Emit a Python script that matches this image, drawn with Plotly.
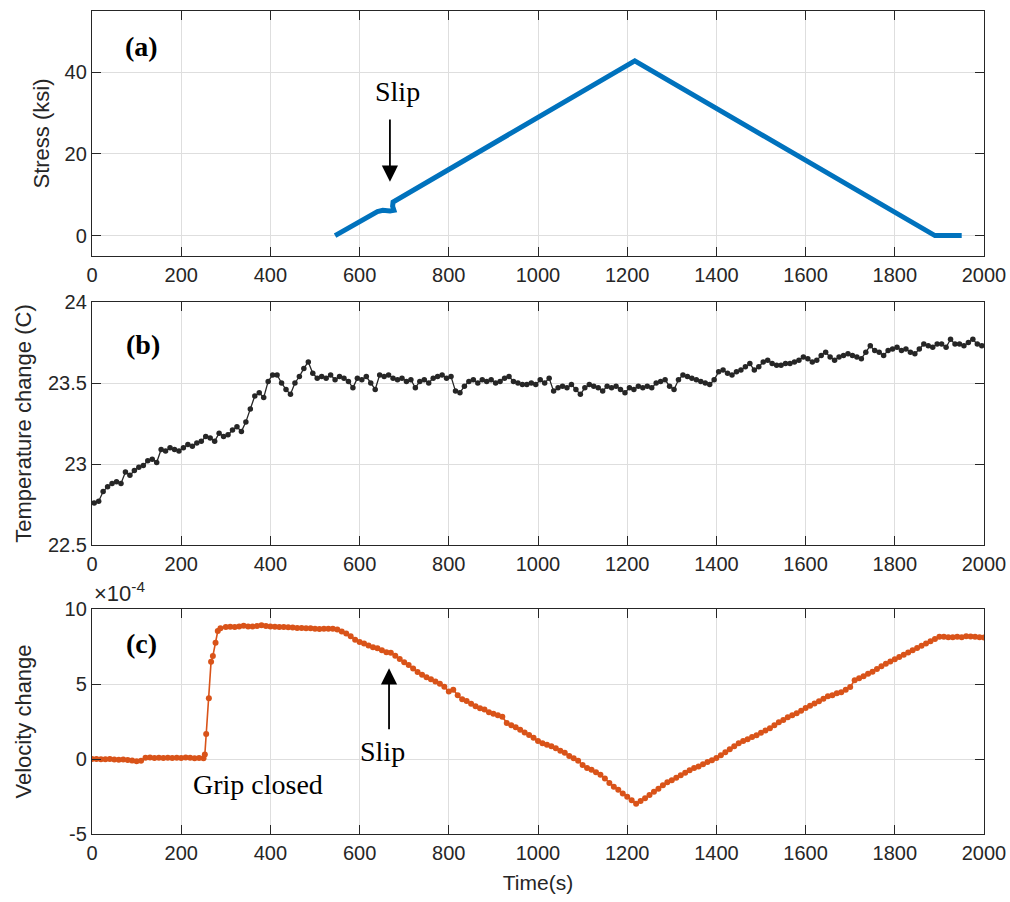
import plotly.graph_objects as go

# ---------------- data ----------------
# (a) Stress (ksi) vs time (s)
STRESS_T = [545, 640, 652, 668, 677, 674, 675, 1217, 1890, 1950]
STRESS = [0.0, 5.9, 6.2, 6.0, 6.2, 7.2, 8.2, 42.8, 0.0, 0.0]

# (b) Temperature change (C), sampled every 10 s starting at 5 s
TEMP_T = list(range(5, 2000, 10))
TEMP = [
    22.76, 22.77, 22.83, 22.86, 22.88, 22.89, 22.88, 22.95, 22.93, 22.96,
    22.98, 22.99, 23.02, 23.03, 23.01, 23.09, 23.08, 23.10, 23.09, 23.08,
    23.10, 23.12, 23.11, 23.13, 23.14, 23.17, 23.16, 23.14, 23.19, 23.17,
    23.18, 23.21, 23.23, 23.20, 23.26, 23.34, 23.42, 23.44, 23.41, 23.51,
    23.55, 23.55, 23.50, 23.46, 23.43, 23.50, 23.54, 23.59, 23.63, 23.56,
    23.53, 23.54, 23.53, 23.55, 23.52, 23.54, 23.53, 23.51, 23.47, 23.53,
    23.52, 23.54, 23.50, 23.46, 23.55, 23.54, 23.55, 23.53, 23.52, 23.53,
    23.51, 23.52, 23.47, 23.51, 23.52, 23.50, 23.53, 23.54, 23.55, 23.53,
    23.54, 23.45, 23.44, 23.48, 23.51, 23.52, 23.50, 23.52, 23.51, 23.52,
    23.50, 23.51, 23.53, 23.54, 23.51, 23.50, 23.49, 23.49, 23.50, 23.49,
    23.52, 23.50, 23.53, 23.45, 23.47, 23.48, 23.47, 23.49, 23.46, 23.43,
    23.47, 23.49, 23.48, 23.47, 23.45, 23.48, 23.47, 23.48, 23.46, 23.44,
    23.47, 23.46, 23.48, 23.47, 23.48, 23.47, 23.50, 23.51, 23.52, 23.48,
    23.46, 23.52, 23.55, 23.54, 23.53, 23.52, 23.51, 23.50, 23.49, 23.52,
    23.57, 23.58, 23.56, 23.55, 23.57, 23.58, 23.60, 23.62, 23.58, 23.60,
    23.63, 23.64, 23.62, 23.61, 23.61, 23.62, 23.62, 23.63, 23.64, 23.66,
    23.65, 23.63, 23.64, 23.67, 23.69, 23.66, 23.64, 23.66, 23.67, 23.68,
    23.67, 23.66, 23.65, 23.69, 23.73, 23.70, 23.69, 23.67, 23.70, 23.71,
    23.72, 23.70, 23.71, 23.69, 23.68, 23.71, 23.74, 23.73, 23.72, 23.74,
    23.74, 23.72, 23.77, 23.74, 23.74, 23.73, 23.75, 23.77, 23.74, 23.73,
]

# (c) Velocity change (x1e-4)
VEL_T = (list(range(0, 251, 10))
         + [253, 256, 262, 267, 271, 277, 282, 288]
         + list(range(300, 2001, 10)))
VEL = [
    0.00, 0.00, -0.02, -0.02, 0.00, -0.03, -0.05, -0.04, -0.06, -0.10,
    -0.15, -0.12, 0.08, 0.10, 0.06, 0.08, 0.07, 0.08, 0.06, 0.08,
    0.07, 0.10, 0.08, 0.05, 0.06, 0.05,
    0.30, 1.67, 4.05, 6.49, 6.87, 7.75, 8.53, 8.72,
    8.80, 8.82, 8.80, 8.84, 8.88, 8.84, 8.84, 8.86, 8.92, 8.86,
    8.84, 8.82, 8.80, 8.80, 8.78, 8.76, 8.74, 8.74, 8.72, 8.72,
    8.68, 8.66, 8.68, 8.68, 8.68, 8.64, 8.50, 8.36, 8.18, 7.95,
    7.80, 7.70, 7.56, 7.45, 7.38, 7.25, 7.12, 7.08, 6.88, 6.66,
    6.45, 6.26, 6.04, 5.80, 5.62, 5.45, 5.32, 5.16, 5.02, 4.82,
    4.50, 4.62, 4.25, 3.98, 3.86, 3.68, 3.52, 3.38, 3.30, 3.12,
    3.02, 2.92, 2.82, 2.40, 2.25, 2.12, 1.95, 1.76, 1.60, 1.42,
    1.20, 1.05, 0.95, 0.85, 0.72, 0.55, 0.42, 0.20, 0.05, -0.12,
    -0.40, -0.60, -0.72, -0.88, -1.05, -1.30, -1.60, -1.85, -2.05, -2.30,
    -2.52, -2.75, -2.98, -2.80, -2.62, -2.40, -2.18, -1.98, -1.75, -1.55,
    -1.42, -1.25, -1.08, -0.92, -0.75, -0.60, -0.50, -0.35, -0.20, -0.08,
    0.06, 0.25, 0.45, 0.65, 0.85, 1.05, 1.20, 1.32, 1.46, 1.58,
    1.75, 1.90, 2.05, 2.25, 2.45, 2.60, 2.78, 2.92, 3.05, 3.22,
    3.40, 3.55, 3.70, 3.85, 4.02, 4.18, 4.25, 4.38, 4.45, 4.62,
    4.80, 5.25, 5.38, 5.52, 5.68, 5.82, 6.00, 6.18, 6.35, 6.50,
    6.65, 6.80, 6.95, 7.10, 7.25, 7.40, 7.55, 7.70, 7.85, 8.00,
    8.15, 8.15, 8.12, 8.12, 8.15, 8.12, 8.18, 8.16, 8.15, 8.12,
    8.10,
]

X_TICKS = list(range(0, 2001, 200))
Y1_TICKS = [0, 20, 40]
Y2_TICKS = [22.5, 23, 23.5, 24]
Y3_TICKS = [-5, 0, 5, 10]
Y3_TEXT = ["-5", "0", "5", "10"]

# ---------------- styling ----------------
AX = "#262626"
GRID = "#dedede"
SANS = "Liberation Sans, Arial, sans-serif"
SERIF = "Liberation Serif, Times New Roman, serif"
BLUE = "#0072BD"
ORANGE = "#D95319"
DARK = "#262626"

fig = go.Figure()
fig.add_trace(go.Scatter(x=STRESS_T, y=STRESS, mode="lines",
                         line=dict(color=BLUE, width=5),
                         xaxis="x", yaxis="y", showlegend=False))
fig.add_trace(go.Scatter(x=TEMP_T, y=TEMP, mode="lines+markers",
                         line=dict(color=DARK, width=1.3),
                         marker=dict(color=DARK, size=5.5),
                         xaxis="x2", yaxis="y2", showlegend=False))
fig.add_trace(go.Scatter(x=VEL_T, y=VEL, mode="lines+markers",
                         line=dict(color=ORANGE, width=1.6),
                         marker=dict(color=ORANGE, size=6),
                         xaxis="x3", yaxis="y3", showlegend=False))


def axis(**kw):
    d = dict(showline=True, linecolor=AX, linewidth=1.3, mirror="ticks",
             ticks="inside", ticklen=9, tickwidth=1.3, tickcolor=AX,
             showgrid=True, gridcolor=GRID, gridwidth=1, zeroline=False,
             automargin=False,
             tickfont=dict(family=SANS, size=20, color=AX))
    d.update(kw)
    return d


H = 823.0
dom_a = [(834 - 256) / H, 1.0]
dom_b = [(834 - 545) / H, (834 - 302) / H]
dom_c = [0.0, (834 - 609) / H]

xcommon = dict(range=[0, 2000], tickvals=X_TICKS, ticklabelstandoff=1)
fig.update_layout(
    width=1010, height=902, autosize=False,
    margin=dict(l=92, r=26, t=11, b=68, pad=0),
    paper_bgcolor="white", plot_bgcolor="white",
    xaxis=axis(anchor="y", domain=[0, 1], **xcommon),
    xaxis2=axis(anchor="y2", domain=[0, 1], **xcommon),
    xaxis3=axis(anchor="y3", domain=[0, 1], **xcommon,
                title=dict(text="Time(s)", font=dict(family=SANS, size=21, color=AX),
                           standoff=12)),
    yaxis=axis(anchor="x", domain=dom_a, range=[-5, 55], tickvals=Y1_TICKS,
               title=dict(text="Stress (ksi)", font=dict(family=SANS, size=22, color=AX),
                          standoff=8)),
    yaxis2=axis(anchor="x2", domain=dom_b, range=[22.5, 24], tickvals=Y2_TICKS,
                title=dict(text="Temperature change (C)",
                           font=dict(family=SANS, size=22, color=AX), standoff=10)),
    yaxis3=axis(anchor="x3", domain=dom_c, range=[-5, 10], tickvals=Y3_TICKS,
                ticktext=Y3_TEXT,
                title=dict(text="Velocity change", font=dict(family=SANS, size=22, color=AX),
                           standoff=26)),
)

ann_font = dict(family=SERIF, size=28, color="black")
bold_font = dict(family=SERIF, size=28, color="black")
fig.add_annotation(x=111, y=46.3, xref="x", yref="y", text="<b>(a)</b>",
                   showarrow=False, font=bold_font)
fig.add_annotation(x=114, y=23.74, xref="x2", yref="y2", text="<b>(b)</b>",
                   showarrow=False, font=bold_font)
fig.add_annotation(x=111, y=7.67, xref="x3", yref="y3", text="<b>(c)</b>",
                   showarrow=False, font=bold_font)

fig.add_annotation(x=684, y=35.3, xref="x", yref="y", text="Slip",
                   showarrow=False, font=ann_font)
fig.add_annotation(x=668, y=13.2, xref="x", yref="y", ax=668, ay=28.8,
                   axref="x", ayref="y", text="", showarrow=True,
                   arrowhead=2, arrowsize=1.8, arrowwidth=1.8, arrowcolor="black")

fig.add_annotation(x=652, y=0.47, xref="x3", yref="y3", text="Slip",
                   showarrow=False, font=ann_font)
fig.add_annotation(x=666, y=6.05, xref="x3", yref="y3", ax=666, ay=1.89,
                   axref="x3", ayref="y3", text="", showarrow=True,
                   arrowhead=2, arrowsize=1.8, arrowwidth=1.8, arrowcolor="black")
fig.add_annotation(x=372, y=-1.67, xref="x3", yref="y3", text="Grip closed",
                   showarrow=False, font=ann_font)

fig.add_annotation(x=0, y=1, xref="x3 domain", yref="y3 domain",
                   xanchor="left", yanchor="bottom", yshift=1,
                   text="×10<sup>-4</sup>", showarrow=False,
                   font=dict(family=SANS, size=22, color=AX))

fig.write_html("out.html",
               config={"displayModeBar": False},
               post_script="document.body.style.margin='0px';"
                           "document.body.style.overflow='hidden';")
